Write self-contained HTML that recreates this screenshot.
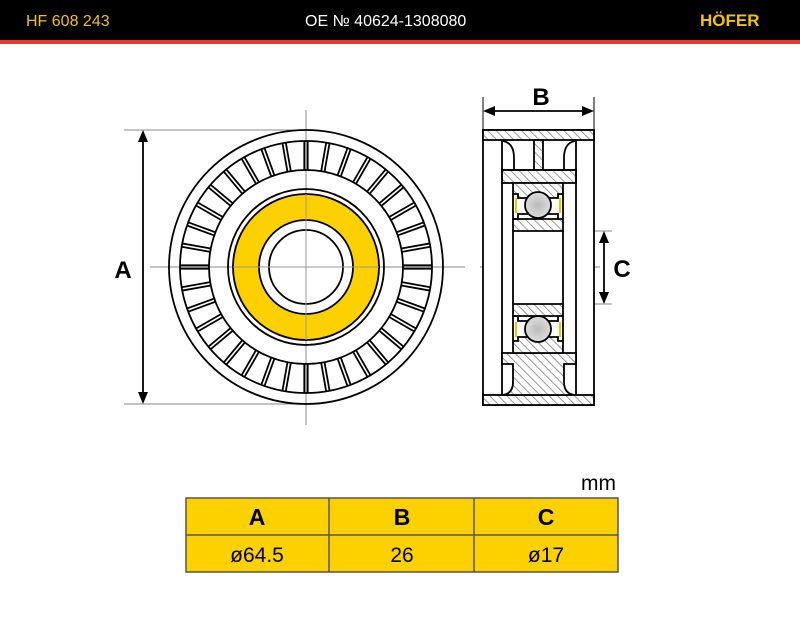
<!DOCTYPE html>
<html><head><meta charset="utf-8"><style>
body{margin:0;width:800px;height:617px;overflow:hidden;background:#fff;font-family:"Liberation Sans",sans-serif}
</style></head><body>
<svg width="800" height="617" viewBox="0 0 800 617" xmlns="http://www.w3.org/2000/svg">
<defs>
<pattern id="h" width="6" height="6" patternUnits="userSpaceOnUse" patternTransform="rotate(-45)">
<rect width="6" height="6" fill="#fff"/><line x1="0" y1="0" x2="0" y2="6" stroke="#777" stroke-width="1.5"/>
</pattern>
<g id="r"><line x1="-1.7" y1="-97" x2="-1.7" y2="-126" stroke="#000" stroke-width="1.8"/><line x1="1.7" y1="-97" x2="1.7" y2="-126" stroke="#000" stroke-width="1.8"/></g>
<radialGradient id="bg"><stop offset="0" stop-color="#bbb"/><stop offset="1" stop-color="#ddd"/></radialGradient>
</defs>
<rect x="0" y="0" width="800" height="40" fill="#000"/>
<rect x="0" y="40" width="800" height="4" fill="#f0352a"/>
<text x="26" y="26" font-size="16" fill="#f5c400" font-family="Liberation Sans">HF 608 243</text>
<text x="305" y="26" font-size="16" fill="#fff">OE №  40624-1308080</text>
<text x="700" y="26" font-size="17" fill="#f5c400" font-weight="bold">HÖFER</text>

<g stroke="#888" stroke-width="1" fill="none">
<line x1="124" y1="130" x2="310" y2="130"/><line x1="124" y1="404" x2="310" y2="404"/>
<line x1="150" y1="267" x2="465" y2="267"/><line x1="306" y1="110" x2="306" y2="425"/>
<line x1="480" y1="267" x2="600" y2="267"/>
<line x1="563" y1="231" x2="612" y2="231"/><line x1="563" y1="304" x2="612" y2="304"/>
</g>
<g fill="none" stroke="#000" stroke-width="1.8">
<circle cx="306" cy="267" r="137"/><circle cx="306" cy="267" r="126"/><circle cx="306" cy="267" r="97"/><circle cx="306" cy="267" r="78"/>
</g>
<circle cx="306" cy="267" r="73" fill="#fdd000" stroke="#000" stroke-width="1.8"/>
<circle cx="306" cy="267" r="47" fill="#fff" stroke="#000" stroke-width="1.8"/>
<circle cx="306" cy="267" r="37" fill="#fff" stroke="#000" stroke-width="1.8"/>
<line x1="306" y1="194" x2="306" y2="340" stroke="#999" stroke-width="1"/>
<line x1="233" y1="267" x2="379" y2="267" stroke="#999" stroke-width="1"/>
<g transform="translate(306 267)">
<use href="#r" transform="rotate(0)"/><use href="#r" transform="rotate(10)"/><use href="#r" transform="rotate(20)"/><use href="#r" transform="rotate(30)"/><use href="#r" transform="rotate(40)"/><use href="#r" transform="rotate(50)"/><use href="#r" transform="rotate(60)"/><use href="#r" transform="rotate(70)"/><use href="#r" transform="rotate(80)"/><use href="#r" transform="rotate(90)"/><use href="#r" transform="rotate(100)"/><use href="#r" transform="rotate(110)"/><use href="#r" transform="rotate(120)"/><use href="#r" transform="rotate(130)"/><use href="#r" transform="rotate(140)"/><use href="#r" transform="rotate(150)"/><use href="#r" transform="rotate(160)"/><use href="#r" transform="rotate(170)"/><use href="#r" transform="rotate(180)"/><use href="#r" transform="rotate(190)"/><use href="#r" transform="rotate(200)"/><use href="#r" transform="rotate(210)"/><use href="#r" transform="rotate(220)"/><use href="#r" transform="rotate(230)"/><use href="#r" transform="rotate(240)"/><use href="#r" transform="rotate(250)"/><use href="#r" transform="rotate(260)"/><use href="#r" transform="rotate(270)"/><use href="#r" transform="rotate(280)"/><use href="#r" transform="rotate(290)"/><use href="#r" transform="rotate(300)"/><use href="#r" transform="rotate(310)"/><use href="#r" transform="rotate(320)"/><use href="#r" transform="rotate(330)"/><use href="#r" transform="rotate(340)"/><use href="#r" transform="rotate(350)"/>
</g>
<line x1="143" y1="138" x2="143" y2="396" stroke="#000" stroke-width="1.8"/>
<path d="M143,130 L138,142 L148,142Z M143,404 L138,392 L148,392Z" fill="#000"/>
<text x="123" y="278" font-size="24" font-weight="bold" text-anchor="middle">A</text>

<g stroke="#000" stroke-width="1.8">
<rect x="483" y="130" width="111" height="275" fill="#fff"/>
<rect x="483" y="130" width="111" height="10" fill="url(#h)"/>
<rect x="483" y="395" width="111" height="10" fill="url(#h)"/>
<rect x="534" y="140" width="9" height="30" fill="url(#h)"/>
<rect x="502" y="170" width="74" height="13" fill="url(#h)"/>
<line x1="502" y1="140" x2="502" y2="395"/><line x1="576" y1="140" x2="576" y2="395"/>
<line x1="502" y1="170" x2="534" y2="170"/><line x1="543" y1="170" x2="576" y2="170"/>
<path d="M503,141 Q514,143 514,158 L514,170" fill="none"/>
<path d="M575,141 Q564,143 564,158 L564,170" fill="none"/>
<path d="M502,353 L576,353 L576,364 L564,364 L564,382 Q564,394 575,395 L502,395 Q513,394 513,382 L513,364 L502,364Z" fill="url(#h)"/>
<path d="M513,183 L563,183 L563,194 L558,194 L558,198 L518,198 L518,194 L513,194Z" fill="url(#h)"/>
<path d="M513,219 L563,219 L563,231 L513,231Z" fill="url(#h)"/>
<path d="M513,219 L518,219 L518,214 L558,214 L558,219" fill="none"/>
<path d="M513,304 L563,304 L563,316 L513,316Z" fill="url(#h)"/>
<path d="M513,316 L518,316 L518,321 L558,321 L558,316" fill="none"/>
<path d="M513,353 L563,353 L563,341 L558,341 L558,337 L518,337 L518,341 L513,341Z" fill="url(#h)"/>
<line x1="513" y1="194" x2="513" y2="219"/><line x1="563" y1="194" x2="563" y2="219"/>
<line x1="513" y1="231" x2="513" y2="304"/><line x1="563" y1="231" x2="563" y2="304"/>
<line x1="513" y1="316" x2="513" y2="341"/><line x1="563" y1="316" x2="563" y2="341"/>
<circle cx="538" cy="205" r="13" fill="url(#bg)"/>
<circle cx="538" cy="329" r="13" fill="url(#bg)"/>
</g>
<g stroke="#f5c400" stroke-width="2">
<line x1="516" y1="198" x2="516" y2="213"/><line x1="560" y1="198" x2="560" y2="213"/>
<line x1="516" y1="322" x2="516" y2="337"/><line x1="560" y1="322" x2="560" y2="337"/>
</g>
<g stroke="#000" stroke-width="1"><line x1="483" y1="97" x2="483" y2="130"/><line x1="594" y1="97" x2="594" y2="130"/></g>
<line x1="490" y1="111" x2="587" y2="111" stroke="#000" stroke-width="1.8"/>
<path d="M483,111 L495,106 L495,116Z M594,111 L582,106 L582,116Z" fill="#000"/>
<text x="541" y="105" font-size="24" font-weight="bold" text-anchor="middle">B</text>
<line x1="604" y1="238" x2="604" y2="297" stroke="#000" stroke-width="1.8"/>
<path d="M604,231 L599,243 L609,243Z M604,304 L599,292 L609,292Z" fill="#000"/>
<text x="622" y="277" font-size="24" font-weight="bold" text-anchor="middle">C</text>

<text x="616" y="490" font-size="21" text-anchor="end">mm</text>
<rect x="186" y="498" width="432" height="74" fill="#fdd000" stroke="#555" stroke-width="1.5"/>
<g stroke="#555" stroke-width="1.5"><line x1="186" y1="535" x2="618" y2="535"/><line x1="329" y1="498" x2="329" y2="572"/><line x1="474" y1="498" x2="474" y2="572"/></g>
<g font-size="23" font-weight="bold" text-anchor="middle"><text x="257" y="525">A</text><text x="402" y="525">B</text><text x="546" y="525">C</text></g>
<g font-size="21" text-anchor="middle"><text x="257" y="562">ø64.5</text><text x="402" y="562">26</text><text x="546" y="562">ø17</text></g>
</svg>
</body></html>
